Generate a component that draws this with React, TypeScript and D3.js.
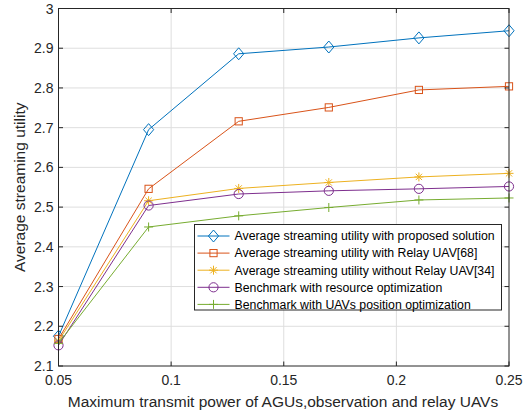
import React from "react";
import * as d3 from "d3";

const power = [0.05, 0.09, 0.13, 0.17, 0.21, 0.25];
const proposed = [2.175, 2.695, 2.886, 2.903, 2.926, 2.944];
const relay68 = [2.168, 2.546, 2.716, 2.751, 2.795, 2.804];
const noRelay34 = [2.163, 2.516, 2.547, 2.562, 2.576, 2.585];
const resourceOpt = [2.152, 2.504, 2.533, 2.541, 2.546, 2.552];
const positionOpt = [2.157, 2.450, 2.478, 2.499, 2.518, 2.523];

const xTicks = [0.05, 0.1, 0.15, 0.2, 0.25];
const yTicks = [2.1, 2.2, 2.3, 2.4, 2.5, 2.6, 2.7, 2.8, 2.9, 3];

const seriesNames = [
  "Average streaming utility with proposed solution",
  "Average streaming utility with Relay UAV[68]",
  "Average streaming utility without Relay UAV[34]",
  "Benchmark with resource optimization",
  "Benchmark with UAVs position optimization",
];

type MarkerKind = "diamond" | "square" | "star" | "circle" | "plus";

const series: { name: string; values: number[]; color: string; marker: MarkerKind }[] = [
  { name: seriesNames[0], values: proposed, color: "#0072BD", marker: "diamond" },
  { name: seriesNames[1], values: relay68, color: "#D95319", marker: "square" },
  { name: seriesNames[2], values: noRelay34, color: "#EDB120", marker: "star" },
  { name: seriesNames[3], values: resourceOpt, color: "#7E2F8E", marker: "circle" },
  { name: seriesNames[4], values: positionOpt, color: "#77AC30", marker: "plus" },
];

const W = 529;
const H = 414;
const plot = { left: 58.5, right: 509, top: 8.5, bottom: 366 };

const x = d3.scaleLinear().domain([0.05, 0.25]).range([plot.left, plot.right]);
const y = d3.scaleLinear().domain([2.1, 3]).range([plot.bottom, plot.top]);

const FONT = "'Liberation Sans', Arial, Helvetica, sans-serif";
const AXIS = "#262626";

function Marker({ kind, cx, cy, color }: { kind: MarkerKind; cx: number; cy: number; color: string }) {
  const common = { fill: "none", stroke: color, strokeWidth: 1 };
  switch (kind) {
    case "diamond": {
      const r = 6;
      return <path d={`M${cx},${cy - r}L${cx + r * 0.85},${cy}L${cx},${cy + r}L${cx - r * 0.85},${cy}Z`} {...common} />;
    }
    case "square": {
      const s = 3.6;
      return <rect x={cx - s} y={cy - s} width={2 * s} height={2 * s} {...common} />;
    }
    case "circle":
      return <circle cx={cx} cy={cy} r={4.6} {...common} />;
    case "plus": {
      const r = 4.5;
      return <path d={`M${cx - r},${cy}H${cx + r}M${cx},${cy - r}V${cy + r}`} {...common} />;
    }
    case "star": {
      const r = 4.5;
      const d = r * 0.7;
      return (
        <path
          d={`M${cx - r},${cy}H${cx + r}M${cx},${cy - r}V${cy + r}M${cx - d},${cy - d}L${cx + d},${cy + d}M${cx - d},${cy + d}L${cx + d},${cy - d}`}
          {...common}
        />
      );
    }
  }
}

export default function App() {
  const line = d3
    .line<number>()
    .x((_, i) => x(power[i]))
    .y((v) => y(v));

  const legend = { left: 194.5, top: 224.5, width: 307, height: 85.5, rowH: 17.1, firstRow: 236 };

  return (
    <svg
      width={W}
      height={H}
      style={{ position: "absolute", left: 0, top: 0, background: "#fff" }}
      fontFamily={FONT}
    >
      <rect x={0} y={0} width={W} height={H} fill="#fff" />
      <rect
        x={plot.left}
        y={plot.top}
        width={plot.right - plot.left}
        height={plot.bottom - plot.top}
        fill="#fff"
      />
      {/* grid */}
      {xTicks.slice(1, -1).map((t) => (
        <line key={`gx${t}`} x1={x(t)} x2={x(t)} y1={plot.top} y2={plot.bottom} stroke="#dedede" strokeWidth={1} />
      ))}
      {yTicks.slice(1, -1).map((t) => (
        <line key={`gy${t}`} x1={plot.left} x2={plot.right} y1={y(t)} y2={y(t)} stroke="#dedede" strokeWidth={1} />
      ))}

      {/* series */}
      {series.map((s) => (
        <g key={s.name}>
          <path d={line(s.values) ?? ""} fill="none" stroke={s.color} strokeWidth={1} />
          {s.values.map((v, i) => (
            <Marker key={i} kind={s.marker} cx={x(power[i])} cy={y(v)} color={s.color} />
          ))}
        </g>
      ))}

      {/* axes box and ticks */}
      <rect
        x={plot.left}
        y={plot.top}
        width={plot.right - plot.left}
        height={plot.bottom - plot.top}
        fill="none"
        stroke={AXIS}
        strokeWidth={1}
      />
      {xTicks.map((t) => (
        <g key={`tx${t}`}>
          <line x1={x(t)} x2={x(t)} y1={plot.bottom} y2={plot.bottom - 4.5} stroke={AXIS} />
          <line x1={x(t)} x2={x(t)} y1={plot.top} y2={plot.top + 4.5} stroke={AXIS} />
          <text x={x(t)} y={plot.bottom + 19} textAnchor="middle" fontSize={14} fill={AXIS}>
            {d3.format("~g")(t)}
          </text>
        </g>
      ))}
      {yTicks.map((t) => (
        <g key={`ty${t}`}>
          <line x1={plot.left} x2={plot.left + 4.5} y1={y(t)} y2={y(t)} stroke={AXIS} />
          <line x1={plot.right} x2={plot.right - 4.5} y1={y(t)} y2={y(t)} stroke={AXIS} />
          <text x={plot.left - 5} y={y(t) + 5} textAnchor="end" fontSize={14} fill={AXIS}>
            {d3.format("~g")(t)}
          </text>
        </g>
      ))}

      {/* axis labels */}
      <text x={283} y={407} textAnchor="middle" fontSize={15.5} fill={AXIS}>
        Maximum transmit power of AGUs,observation and relay UAVs
      </text>
      <text
        transform={`translate(25,${(plot.top + plot.bottom) / 2}) rotate(-90)`}
        textAnchor="middle"
        fontSize={15.5}
        fill={AXIS}
      >
        Average streaming utility
      </text>

      {/* legend */}
      <g>
        <rect
          x={legend.left}
          y={legend.top}
          width={legend.width}
          height={legend.height}
          fill="#fff"
          stroke={AXIS}
          strokeWidth={1}
        />
        {series.map((s, i) => {
          const ry = legend.firstRow + i * legend.rowH;
          return (
            <g key={`lg${i}`}>
              <line x1={legend.left + 3} x2={legend.left + 35} y1={ry} y2={ry} stroke={s.color} strokeWidth={1} />
              <Marker kind={s.marker} cx={legend.left + 19} cy={ry} color={s.color} />
              <text x={legend.left + 40} y={ry + 4.3} fontSize={12.3} fill="#000">
                {s.name}
              </text>
            </g>
          );
        })}
      </g>
    </svg>
  );
}
